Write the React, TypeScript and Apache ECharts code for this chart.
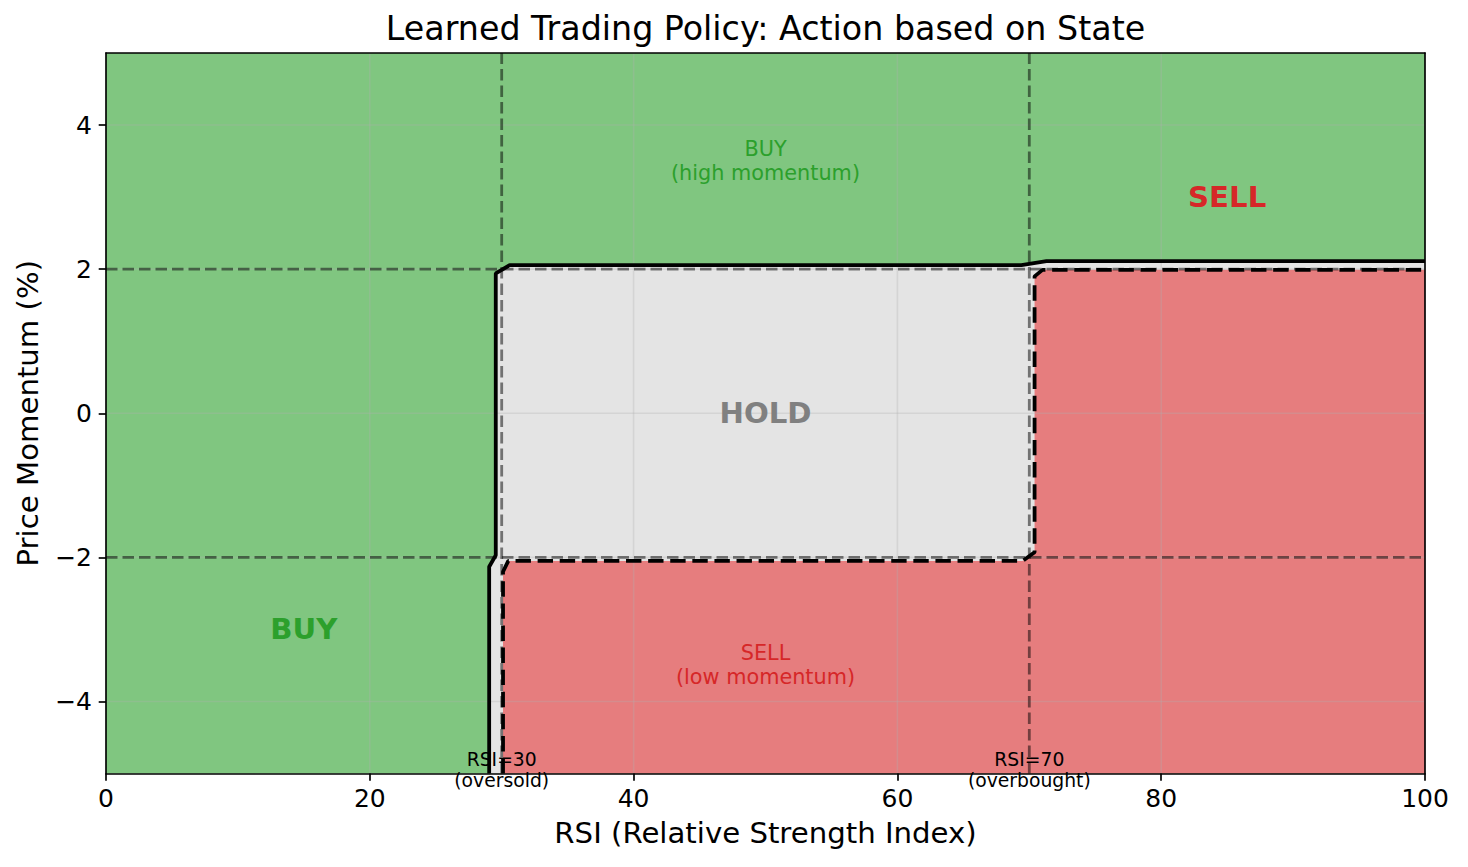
import React, { useEffect, useRef } from "react";
import * as echarts from "echarts";

// ---- data ----
const xMin = 0;
const xMax = 100;
const yMin = -5;
const yMax = 5;
const xInterval = 20;
const yTicks = [-4, -2, 0, 2, 4];
const gridX = [20, 40, 60, 80];
const gridY = [-4, -2, 0, 2, 4];

// contour between BUY and HOLD/SELL (solid)
const buyBoundary: [number, number][] = [
  [29.05, -5], [29.05, -2.13], [29.55, -1.97], [29.55, 1.94],
  [30.6, 2.055], [69.4, 2.055], [71.3, 2.11], [100, 2.11],
];
// contour between HOLD and SELL (dashed)
const sellBoundary: [number, number][] = [
  [30.1, -5], [30.1, -2.2], [30.5, -2.05], [69.5, -2.05],
  [70.4, -1.93], [70.4, 1.9], [71.0, 1.99], [100, 1.99],
];
const rsiThresholds = [30, 70];
const momentumThresholds = [-2, 2];

const labelTexts = ["BUY", "HOLD", "SELL", "BUY\n(high momentum)", "SELL\n(low momentum)", "RSI=30\n(oversold)", "RSI=70\n(overbought)"];
const labelX = [15, 50, 85, 50, 50, 30, 70];
const labelY = [-3, 0, 3, 3.5, -3.5, -4.95, -4.95];

// ---- styles ----
const FONT = "DejaVu Sans";
const GREEN_FILL = "#80c680";
const GRAY_FILL = "#e4e4e4";
const RED_FILL = "#e67d7e";
const labelStyles = [
  { color: "#2ca02c", fontSize: 29.2, fontWeight: "bold", lineHeight: 34 },
  { color: "#808080", fontSize: 29.2, fontWeight: "bold", lineHeight: 34 },
  { color: "#d62728", fontSize: 29.2, fontWeight: "bold", lineHeight: 34 },
  { color: "#2ca02c", fontSize: 20.8, fontWeight: "normal", lineHeight: 24 },
  { color: "#d62728", fontSize: 20.8, fontWeight: "normal", lineHeight: 24 },
  { color: "#000000", fontSize: 18.75, fontWeight: "normal", lineHeight: 21 },
  { color: "#000000", fontSize: 18.75, fontWeight: "normal", lineHeight: 21 },
];

const fmt = (v: number) => String(v).replace("-", "\u2212");

function polySeries(points: [number, number][], color: string, z: number) {
  return {
    type: "custom",
    coordinateSystem: "cartesian2d",
    silent: true,
    z,
    data: [[points[0][0], points[0][1]]],
    encode: { x: 0, y: 1 },
    renderItem: (_p: any, api: any) => ({
      type: "polygon",
      shape: { points: points.map((p) => api.coord(p)) },
      style: { fill: color, stroke: null },
    }),
  };
}

function lineSeries(data: [number, number][], style: any, z: number) {
  return {
    type: "line",
    data,
    symbol: "none",
    showSymbol: false,
    silent: true,
    z,
    lineStyle: style,
  };
}

const fullRegion: [number, number][] = [[xMin, yMin], [xMin, yMax], [xMax, yMax], [xMax, yMin]];
const nonBuyRegion: [number, number][] = [...buyBoundary, [xMax, yMin]];
const sellRegion: [number, number][] = [...sellBoundary, [xMax, yMin]];

const axisLineStyle = { color: "#000", width: 1.67 };

const option: any = {
  animation: false,
  title: {
    text: "Learned Trading Policy: Action based on State",
    left: 765.5,
    top: 12,
    textAlign: "center",
    padding: 0,
    textStyle: { fontSize: 33.3, fontWeight: "normal", color: "#000", fontFamily: FONT },
  },
  grid: { left: 106, top: 53, width: 1319, height: 720.5, containLabel: false, outerBoundsMode: "none" },
  xAxis: [
    {
      type: "value", min: xMin, max: xMax, interval: xInterval, position: "bottom", z: 6,
      axisLine: { show: true, onZero: false, lineStyle: axisLineStyle },
      axisTick: { show: true, length: 7.3, lineStyle: axisLineStyle },
      axisLabel: { fontSize: 25, color: "#000", margin: 12, fontFamily: FONT, formatter: fmt },
      splitLine: { show: false },
      name: "RSI (Relative Strength Index)", nameLocation: "middle", nameGap: 45,
      nameTextStyle: { fontSize: 29.2, color: "#000", fontFamily: FONT },
    },
    {
      type: "value", min: xMin, max: xMax, position: "top", z: 6,
      axisLine: { show: true, onZero: false, lineStyle: axisLineStyle },
      axisTick: { show: false }, axisLabel: { show: false }, splitLine: { show: false },
    },
  ],
  yAxis: [
    {
      type: "value", min: yMin, max: yMax, position: "left", z: 6,
      axisLine: { show: true, onZero: false, lineStyle: axisLineStyle },
      axisTick: { show: true, length: 7.3, lineStyle: axisLineStyle, customValues: yTicks },
      axisLabel: { fontSize: 25, color: "#000", margin: 14, fontFamily: FONT, formatter: fmt, customValues: yTicks },
      splitLine: { show: false },
      name: "Price Momentum (%)", nameLocation: "middle", nameGap: 64,
      nameTextStyle: { fontSize: 29.2, color: "#000", fontFamily: FONT },
    },
    {
      type: "value", min: yMin, max: yMax, position: "right", z: 6,
      axisLine: { show: true, onZero: false, lineStyle: axisLineStyle },
      axisTick: { show: false }, axisLabel: { show: false }, splitLine: { show: false },
    },
  ],
  series: [
    polySeries(fullRegion, GREEN_FILL, 1),
    polySeries(nonBuyRegion, GRAY_FILL, 1),
    polySeries(sellRegion, RED_FILL, 1),
    ...gridX.map((gx) => lineSeries([[gx, yMin], [gx, yMax]], { color: "rgba(176,176,176,0.3)", width: 1.6 }, 2)),
    ...gridY.map((gy) => lineSeries([[xMin, gy], [xMax, gy]], { color: "rgba(176,176,176,0.3)", width: 1.6 }, 2)),
    ...rsiThresholds.map((rx) => lineSeries([[rx, yMin], [rx, yMax]], { color: "rgba(0,0,0,0.5)", width: 2.8, type: [11.5, 5] }, 3)),
    ...momentumThresholds.map((my) => lineSeries([[xMin, my], [xMax, my]], { color: "rgba(0,0,0,0.5)", width: 2.8, type: [11.5, 5] }, 3)),
    lineSeries(buyBoundary, { color: "#000", width: 3.8 }, 4),
    lineSeries(sellBoundary, { color: "#000", width: 3.8, type: [15.4, 6.7] }, 4),
    {
      type: "scatter",
      silent: true,
      clip: false,
      z: 7,
      symbolSize: 1,
      itemStyle: { color: "rgba(0,0,0,0)" },
      data: labelTexts.map((t, i) => ({
        value: [labelX[i], labelY[i]],
        label: {
          show: true,
          position: "inside",
          formatter: t,
          fontFamily: FONT,
          align: "center",
          verticalAlign: "middle",
          textBorderWidth: 0,
          textBorderColor: "transparent",
          textShadowBlur: 0,
          opacity: 1,
          ...labelStyles[i],
        },
      })),
    },
  ],
};

export default function App() {
  const ref = useRef<HTMLDivElement>(null);
  useEffect(() => {
    document.body.style.margin = "0";
    const chart = echarts.init(ref.current as HTMLDivElement, null, { renderer: "svg" });
    chart.setOption(option);
    return () => chart.dispose();
  }, []);
  return <div ref={ref} style={{ width: 1468, height: 867 }} />;
}
